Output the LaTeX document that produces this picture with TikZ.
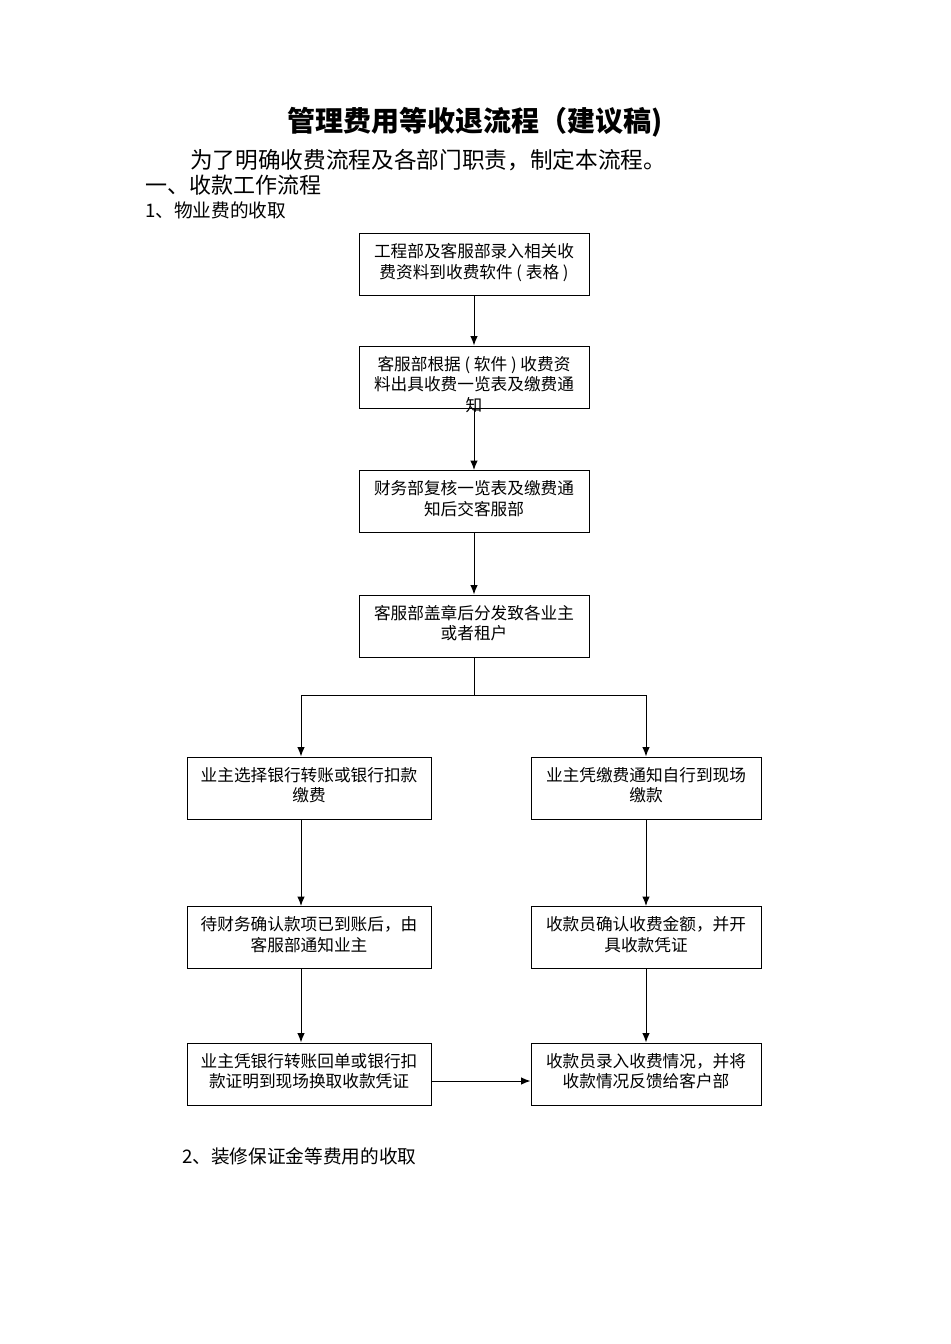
\documentclass[tikz,border=0pt]{standalone}
\usepackage{fontspec}
\setmainfont{Noto Sans CJK SC}
\usetikzlibrary{arrows.meta,positioning}

% text set at the top of a fixed-height box
\newcommand{\boxtxt}[2]{\parbox[c][46.5pt][t]{#1}{\centering\fontsize{12.5pt}{15.5pt}\selectfont\rule{0pt}{18pt}#2}}

\begin{document}
\begin{tikzpicture}[x=0.75pt,y=-0.75pt,
    flowbox/.style={draw, inner sep=0pt, line width=0.75pt},
    flow/.style={-{Latex[length=7pt,width=5.5pt]}, line width=0.75pt},
    heading/.style={anchor=west, inner sep=0pt}]
    \useasboundingbox (0,0) rectangle (950,1344);

    % header text
    \node[font=\bfseries\fontsize{21pt}{25pt}\selectfont] (title) at (475,122) {管理费用等收退流程（建议稿)};
    \node[heading, font=\fontsize{17pt}{20pt}\selectfont] (intro) at (190,160) {为了明确收费流程及各部门职责，制定本流程。};
    \node[heading, font=\fontsize{16.5pt}{20pt}\selectfont] (part1) at (145,185) {一、收款工作流程};
    \node[heading, font=\fontsize{14pt}{17pt}\selectfont] (sec1) at (145,210) {1、物业费的收取};
    \node[heading, font=\fontsize{14pt}{17pt}\selectfont] (sec2) at (182,1156) {2、装修保证金等费用的收取};

    % main column
    \node[flowbox] (b1) at (474,265) {\boxtxt{172.5pt}{工程部及客服部录入相关收\\费资料到收费软件 ( 表格 )}};
    \node[flowbox] (b2) at (474,377) {\boxtxt{172.5pt}{客服部根据 ( 软件 ) 收费资\\料出具收费一览表及缴费通\\知}};
    \node[flowbox] (b3) at (474,501.5) {\boxtxt{172.5pt}{财务部复核一览表及缴费通\\知后交客服部}};
    \node[flowbox] (b4) at (474,626) {\boxtxt{172.5pt}{客服部盖章后分发致各业主\\或者租户}};

    % bank payment
    \node[flowbox] (l1) at (309,788) {\boxtxt{183pt}{业主选择银行转账或银行扣款\\缴费}};
    \node[flowbox] (l2) at (309,937.5) {\boxtxt{183pt}{待财务确认款项已到账后，由\\客服部通知业主}};
    \node[flowbox] (l3) at (309,1074) {\boxtxt{183pt}{业主凭银行转账回单或银行扣\\款证明到现场换取收款凭证}};

    % payment on site
    \node[flowbox] (r1) at (646,788) {\boxtxt{172.5pt}{业主凭缴费通知自行到现场\\缴款}};
    \node[flowbox] (r2) at (646,937.5) {\boxtxt{172.5pt}{收款员确认收费金额，并开\\具收款凭证}};
    \node[flowbox] (r3) at (646,1074) {\boxtxt{172.5pt}{收款员录入收费情况，并将\\收款情况反馈给客户部}};

    \coordinate (split) at (474,695);
    \coordinate (lcol) at (301,695);
    \coordinate (rcol) at (646,695);
    \coordinate (cross) at (0,1081);

    \draw[flow] (b1) -- (b2);
    \draw[flow] (b2) -- (b3);
    \draw[flow] (b3) -- (b4);
    \draw[line width=0.75pt] (b4.south) -- (split);
    \draw[flow] (split) -- (lcol) -- (lcol |- l1.north);
    \draw[flow] (split) -- (rcol) -- (r1.north);
    \draw[flow] (lcol |- l1.south) -- (lcol |- l2.north);
    \draw[flow] (lcol |- l2.south) -- (lcol |- l3.north);
    \draw[flow] (r1) -- (r2);
    \draw[flow] (r2) -- (r3);
    \draw[flow] (l3.east |- cross) -- (r3.west |- cross);
\end{tikzpicture}
\end{document}
